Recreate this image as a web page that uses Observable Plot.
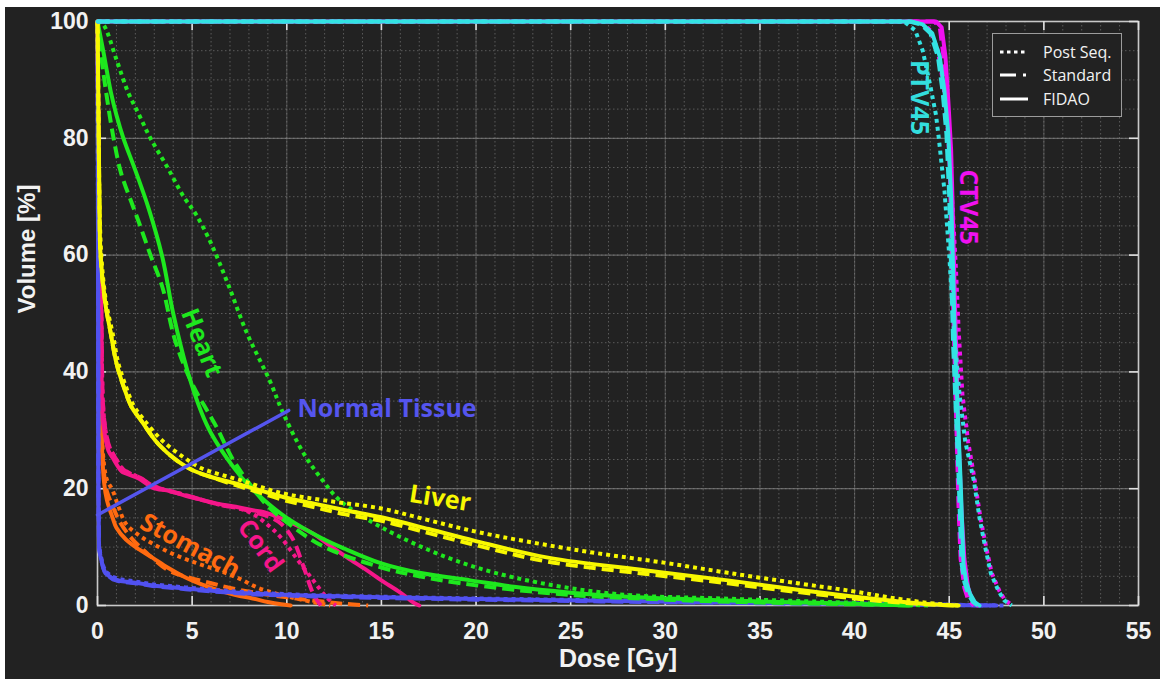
<!DOCTYPE html>
<html>
<head>
<meta charset="utf-8">
<script src="https://cdn.jsdelivr.net/npm/d3@7"></script>
<script src="https://cdn.jsdelivr.net/npm/@observablehq/plot@0.6"></script>
<style>
  html, body { margin: 0; padding: 0; background: #ffffff; }
  #wrap { position: relative; width: 1160px; height: 679px; overflow: hidden; }
  #wrap svg.plot { display: block; }
  .edge { position: absolute; background: #ffffff; }
  #legend { position: absolute; left: 992px; top: 33px; }
</style>
</head>
<body>
<div id="wrap"></div>
<script>
// ---------- tick labels ----------
const xTicks = [0, 5, 10, 15, 20, 25, 30, 35, 40, 45, 50, 55];
const yTicks = [0, 20, 40, 60, 80, 100];
const xMinor = d3.range(0, 56, 1);
const yMinor = d3.range(0, 101, 5);

// ---------- Heart ----------
const heartSolidX = [0,0.3,0.7,1.0,1.37,2.0,2.7,3.43,4.0,4.75,5.5,6.0,7.2,8.0,9.0,10.0,11.8,13.0,15.0,17.0,19.7,22,25,28,32,36,40,43];
const heartSolidY = [100,95,88,84,80,74.5,68,59.6,50,40.2,33,29.5,23.6,20.5,17.5,15,11.6,9.8,7.2,5.6,4.3,3.2,2.2,1.5,1.0,0.6,0.3,0];
const heartDashX = [0,0.2,0.45,0.85,1.25,1.8,2.2,2.8,3.43,4.1,5.0,6.3,7.1,8.0,9.0,10.35,12,15,17,19.2,22,25,30,35,40,43];
const heartDashY = [100,94,88,80,74,69,65.5,60,54.5,45.4,38,30.5,25.3,21,17,13.4,10,6.5,5,3.8,2.7,1.8,1.0,0.5,0.2,0];
const heartDotX = [0,0.3,1.0,1.6,2.2,2.8,3.7,4.55,5.2,6.0,6.9,7.9,9.1,9.8,10.9,11.9,12.8,15,18.5,22,27.3,33,38.7,44];
const heartDotY = [100,99.5,93.5,88,84,80,75,70,67,62,55,46.6,38.5,33,26,21.4,18,13.4,8.2,4.8,2.0,1.2,0.6,0];

// ---------- Liver ----------
const liverSolidX = [0,0.05,0.1,0.16,0.4,0.7,1.0,1.4,1.8,2.3,3.2,4.2,5.0,6,7.3,8.5,9.9,11.5,13.1,15,17.5,19.9,23.8,29,33.3,37,40,42,44,45.5];
const liverSolidY = [100,85,70,60,52,46.6,41.5,37.3,34,31.7,27.7,24.8,23.2,22,20.9,19.8,18.5,17.4,16.3,15.1,13.1,11.1,8.2,6,4.3,2.7,1.5,0.8,0.2,0];
const liverDashX = [0,0.05,0.1,0.16,0.4,0.7,1.0,1.4,1.8,2.3,3.2,4.2,5.0,6,7.3,8.5,9.9,11.5,13.1,15,17.5,19.9,23.8,29,33.3,37,40,42,44,45.3];
const liverDashY = [100,85,70,60,52,46.6,41.5,37.3,34,31.7,27.7,24.8,23.2,22,20.6,19.4,18.0,16.8,15.6,14.5,12.4,10.4,7.5,5.4,3.8,2.3,1.2,0.6,0.15,0];
const liverDotX = [0,0.05,0.1,0.2,0.45,0.8,1.1,1.5,1.9,2.4,3.4,4.5,5.5,7.5,9.67,12,15,17.5,20.2,25.5,30,33.3,37,39.8,42,44.3,45.5];
const liverDotY = [100,85,70,60,52,46.6,41.5,37.5,34.3,32,28.3,25.5,23.5,21.5,19.3,18,16.6,14.6,12.5,9.4,7.3,5.6,3.8,2.5,1.3,0.3,0];

// ---------- Cord ----------
const cordSolidX = [0,0.05,0.1,0.2,0.26,0.4,0.58,0.8,1.27,1.5,2.2,2.9,3.8,4.65,5.5,6.4,7.3,8.2,8.8,10,11.4,12.3,13.2,14.2,15,16,16.7,17];
const cordSolidY = [100,80,62,50,33,29,26.5,25.3,23,22.6,21.7,20.2,19.6,18.8,18.1,17.4,16.9,16.3,16.0,14.5,12.3,10.2,8.2,6.1,4.3,2.2,0.5,0];
const cordDashX = [0,0.05,0.1,0.2,0.3,0.45,0.65,0.9,1.3,1.6,2.3,3,4.65,6.4,7.5,8.5,9.2,9.7,10.3,10.9,11.4,11.8];
const cordDashY = [100,80,62,50,34,29.5,27,25.5,23.5,22.8,21.8,20.4,18.9,17.3,16.6,15.8,15,14,11.5,6.5,2,0];
const cordDotX = [0,0.05,0.1,0.2,0.3,0.45,0.65,0.9,1.3,1.6,2.3,3,4.65,6.4,7.5,8.2,9.0,9.7,10.6,11.4,12.1,12.6];
const cordDotY = [100,80,62,50,34,29.5,27,25.5,23.5,22.8,21.8,20.4,18.9,17.3,16.6,15.7,13.8,11.6,7.7,4.3,1.4,0];

// ---------- Stomach ----------
const stomachSolidX = [0,0.05,0.1,0.2,0.35,0.5,0.8,1.0,1.5,2.2,2.9,3.7,4.65,5.5,6.4,7.3,8.2,9.0,9.7,10.2];
const stomachSolidY = [100,70,50,30,21,18,15,13.3,11.3,9.6,8.2,6.5,4.8,3.6,2.6,1.8,1.2,0.6,0.2,0];
const stomachDashX = [0,0.05,0.1,0.2,0.35,0.5,0.8,1.2,1.8,2.6,3.75,4.8,5.9,7,8.5,10,11.5,13,14.3];
const stomachDashY = [100,71,51,31,22.5,19.5,17,14.2,11.5,9,6.0,4.8,3.9,3.0,2.1,1.4,0.8,0.3,0];
const stomachDotX = [0,0.05,0.1,0.2,0.35,0.5,0.8,1.1,1.5,2.2,2.9,4.0,5.2,6.4,7.5,8.5,9.5,10.5,11.5,12.3];
const stomachDotY = [100,72,52,32,24,21.5,19.7,17,14,12,10.6,8.8,7.3,6,4.6,3.0,2.0,1.2,0.5,0];

// ---------- Normal Tissue ----------
const normalSolidX = [0,0.03,0.05,0.08,0.15,0.3,0.42,0.8,1.2,2,3,4.65,6.5,8.2,11,15,20,26.6,33,39.8,44,46,47.5];
const normalSolidY = [100,60,20,10,8.5,6.5,5.5,4.6,4.2,3.9,3.4,2.9,2.4,2.0,1.7,1.4,1.1,0.8,0.5,0.3,0.15,0.05,0];
const normalDashX = [0,0.03,0.05,0.08,0.15,0.3,0.42,0.8,1.2,2,3,4.65,6.5,8.2,11,15,20,26.6,33,39.8,44,46,47.2];
const normalDashY = [100,60,20,10,8.4,6.4,5.4,4.5,4.1,3.8,3.3,2.8,2.3,1.9,1.6,1.3,1.0,0.7,0.45,0.25,0.12,0.04,0];
const normalDotX = [0,0.03,0.05,0.08,0.15,0.3,0.42,0.8,1.2,2,3,4.65,6.5,8.2,11,15,20,26.6,33,39.8,44,46,48.0];
const normalDotY = [100,60,20,10.5,8.8,6.8,5.8,4.9,4.5,4.1,3.6,3.1,2.6,2.2,1.8,1.5,1.2,0.9,0.6,0.35,0.2,0.08,0];

// ---------- CTV45 ----------
const ctvSolidX = [0,44.3,44.6,44.8,44.95,45.1,45.2,45.3,45.4,45.5,45.65,45.8,46.0,46.2,46.5];
const ctvSolidY = [100,100,99,94,86.5,78,66,52,40,28,16,8,3,1,0];
const ctvDashX = [0,44.2,44.5,44.7,44.85,45.0,45.1,45.2,45.3,45.4,45.5,45.6,45.8,46.0,46.3];
const ctvDashY = [100,100,99,94,86.5,78,66,52,40,28,16,8,3,1,0];
const ctvDotX = [0,43.5,44.0,44.4,44.7,44.9,45.05,45.2,45.35,45.5,45.7,46.0,46.35,46.65,46.95,47.25,47.65,47.95,48.35];
const ctvDotY = [100,100,98.5,95,89,82,75,67,58,47,36,28,21.4,15,10,5.5,2.5,0.9,0];

// ---------- PTV45 ----------
const ptvSolidX = [0,43.0,43.6,44.1,44.5,44.75,44.95,45.1,45.2,45.3,45.45,45.6,45.7,45.75,45.9,46.1,46.35,46.6];
const ptvSolidY = [100,100,99.5,98,94,88,80.8,70,58,45,33,21.4,12,7.2,4,2,0.6,0];
const ptvDashX = [0,42.9,43.5,44.0,44.4,44.65,44.85,45.0,45.1,45.2,45.35,45.5,45.6,45.65,45.8,46.0,46.25,46.5];
const ptvDashY = [100,100,99.5,98,94,88,80.8,70,58,45,33,21.4,12,7.2,4,2,0.6,0];
const ptvDotX = [0,42.6,43.2,43.6,44.0,44.3,44.45,44.75,45.0,45.25,45.55,45.85,46.3,46.6,46.9,47.2,47.6,47.9,48.3];
const ptvDotY = [100,100,98.5,95,89,84,80,71,60,47,36,28,21.4,15,10,5.5,2.5,0.9,0];

// ---------- Normal-tissue pointer and curve labels ----------
const pointerX = [0, 10.1];
const pointerY = [15.5, 33.4];
const labelText = ["Heart", "Liver", "Stomach", "Cord", "Normal Tissue", "PTV45", "CTV45"];
const labelX = [5.5, 18.1, 4.9, 8.6, 15.3, 43.4, 46.0];
const labelY = [45, 18.3, 10.2, 10.2, 33.7, 87, 68.2];
const labelAngle = [68, 9, 28, 54, 0, 90, 90];
const labelColor = ["#1ee81e", "#f8f800", "#ff6a10", "#f5168a", "#5555ee", "#33dede", "#f010f0"];

const legendNames = ["Post Seq.", "Standard", "FIDAO"];

// ---------- styles ----------
const COL = {
  heart: "#1ee81e", liver: "#f8f800", cord: "#f5168a", stomach: "#ff6a10",
  normal: "#5151f0", ctv: "#f010f0", ptv: "#33e3e3"
};
const STYLE = {
  dot:   {strokeDasharray: "4,4", strokeLinecap: "butt"},
  dash:  {strokeDasharray: "12,6", strokeLinecap: "butt"},
  solid: {strokeLinecap: "round"}
};

function curve(xs, ys, color, style, smooth) {
  const rows = xs.map((x, i) => ({x, y: ys[i]}));
  return Plot.line(rows, {x: "x", y: "y", stroke: color, strokeWidth: 4, strokeLinejoin: "round",
    curve: smooth ? "catmull-rom" : "linear", ...STYLE[style]});
}

const structures = [
  ["stomach", true, [stomachDotX, stomachDotY], [stomachDashX, stomachDashY], [stomachSolidX, stomachSolidY]],
  ["cord", true, [cordDotX, cordDotY], [cordDashX, cordDashY], [cordSolidX, cordSolidY]],
  ["normal", false, [normalDotX, normalDotY], [normalDashX, normalDashY], [normalSolidX, normalSolidY]],
  ["heart", true, [heartDotX, heartDotY], [heartDashX, heartDashY], [heartSolidX, heartSolidY]],
  ["liver", true, [liverDotX, liverDotY], [liverDashX, liverDashY], [liverSolidX, liverSolidY]],
  ["ctv", false, [ctvDotX, ctvDotY], [ctvDashX, ctvDashY], [ctvSolidX, ctvSolidY]],
  ["ptv", false, [ptvDotX, ptvDotY], [ptvDashX, ptvDashY], [ptvSolidX, ptvSolidY]]
];

const curveMarks = [];
for (const [key, smooth, dot, dash, solid] of structures) {
  curveMarks.push(curve(dot[0], dot[1], COL[key], "dot", smooth));
  curveMarks.push(curve(dash[0], dash[1], COL[key], "dash", smooth));
  curveMarks.push(curve(solid[0], solid[1], COL[key], "solid", smooth));
}

const W = 1160, H = 679, ML = 97, MR = 22, MT = 21, MB = 74;
const FW = W - ML - MR, FH = H - MT - MB;
const gridColor = "#8a8a8a";
const tickFont = "'Liberation Sans', Arial, sans-serif";

const labels = labelText.map((t, i) => ({t, x: labelX[i], y: labelY[i], a: labelAngle[i], c: labelColor[i]}));

const chart = Plot.plot({
  width: W, height: H,
  marginLeft: ML, marginRight: MR, marginTop: MT, marginBottom: MB,
  style: {background: "#222222", color: "#f2f2f2", fontFamily: tickFont, overflow: "visible"},
  x: {domain: [0, 55], axis: null},
  y: {domain: [0, 100], axis: null},
  marks: [
    Plot.ruleX(xMinor, {x: d => d, stroke: gridColor, strokeOpacity: 0.55, strokeWidth: 1, strokeDasharray: "1.5,2.5"}),
    Plot.ruleY(yMinor, {y: d => d, stroke: gridColor, strokeOpacity: 0.55, strokeWidth: 1, strokeDasharray: "1.5,2.5"}),
    Plot.ruleY(yTicks, {y: d => d, stroke: "#8c8c8c", strokeOpacity: 0.6, strokeWidth: 1.2}),
    Plot.ruleX(xTicks, {x: d => d, stroke: "#8c8c8c", strokeOpacity: 0.35, strokeWidth: 1.2}),
    Plot.frame({stroke: "#c8c8c8", strokeWidth: 1.6}),
    Plot.tickX(xTicks, {x: d => d, insetTop: FH - 9, stroke: "#e0e0e0", strokeWidth: 1.6}),
    Plot.tickX(xTicks, {x: d => d, insetBottom: FH - 9, stroke: "#e0e0e0", strokeWidth: 1.6}),
    Plot.tickY(yTicks, {y: d => d, insetRight: FW - 9, stroke: "#e0e0e0", strokeWidth: 1.6}),
    Plot.tickY(yTicks, {y: d => d, insetLeft: FW - 9, stroke: "#e0e0e0", strokeWidth: 1.6}),
    ...curveMarks,
    Plot.line(pointerX.map((x, i) => ({x, y: pointerY[i]})), {x: "x", y: "y", stroke: "#5555ee", strokeWidth: 3.5}),
    Plot.text(xTicks, {x: d => d, y: 0, text: d => String(d), dy: 26, fontSize: 23, fontWeight: "bold", fill: "#f2f2f2"}),
    Plot.text(yTicks, {x: 0, y: d => d, text: d => String(d), dx: -9, textAnchor: "end", fontSize: 23, fontWeight: "bold", fill: "#f2f2f2"}),
    Plot.text(["Dose [Gy]"], {frameAnchor: "bottom", dy: 61, fontSize: 25, fontWeight: "bold", fill: "#f2f2f2"}),
    Plot.text(["Volume [%]"], {frameAnchor: "left", dx: -70, rotate: -90, fontSize: 24, fontWeight: "bold", fill: "#f2f2f2"}),
    Plot.text(labels, {x: "x", y: "y", text: "t", rotate: "a", fill: "c", fontSize: 25, fontWeight: "bold", fontFamily: "'Open Sans', Lato, sans-serif"})
  ]
});
chart.classList.add("plot");
const wrapEl = document.getElementById("wrap");
wrapEl.appendChild(chart);

const edgeTop = document.createElement("div");
edgeTop.className = "edge"; edgeTop.style.cssText = "left:0;top:0;width:1160px;height:7px;";
const edgeLeft = document.createElement("div");
edgeLeft.className = "edge"; edgeLeft.style.cssText = "left:0;top:0;width:5px;height:679px;";
wrapEl.appendChild(edgeTop); wrapEl.appendChild(edgeLeft);

const lg = d3.create("svg").attr("id", "legend").attr("width", 131).attr("height", 85);
lg.append("rect").attr("x", 0.5).attr("y", 0.5).attr("width", 129).attr("height", 83)
  .attr("fill", "#222222").attr("stroke", "#9c9c9c").attr("stroke-width", 1);
const rowsY = [19, 42, 66];
const dashes = ["3.5,3.5", "16,7,3,30", null];
legendNames.forEach((name, i) => {
  const l = lg.append("line").attr("x1", 8).attr("x2", 36).attr("y1", rowsY[i]).attr("y2", rowsY[i])
    .attr("stroke", "#ffffff").attr("stroke-width", 3);
  if (dashes[i]) l.attr("stroke-dasharray", dashes[i]);
  lg.append("text").attr("x", 51).attr("y", rowsY[i]).attr("dy", "0.35em")
    .attr("fill", "#f2f2f2").attr("font-size", 16)
    .attr("font-family", "'Open Sans', Lato, sans-serif").text(name);
});
wrapEl.appendChild(lg.node());
</script>
</body>
</html>
